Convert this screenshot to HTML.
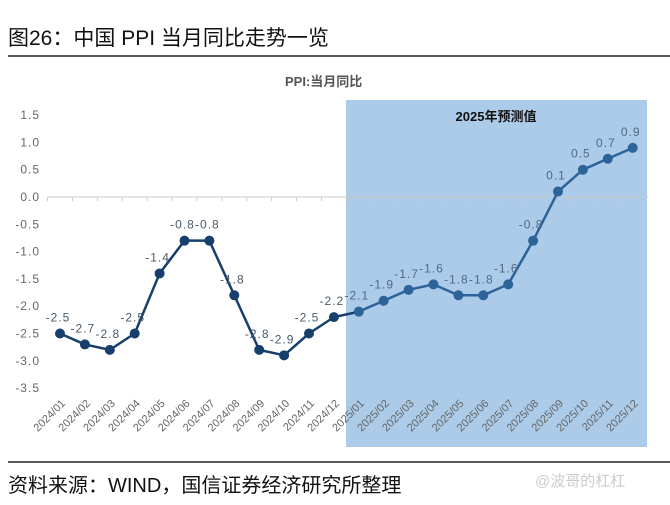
<!DOCTYPE html>
<html><head><meta charset="utf-8"><style>
body{margin:0;background:#fff;width:670px;height:500px;overflow:hidden;font-family:"Liberation Sans","Noto Sans CJK SC",sans-serif}
</style></head><body>
<svg id="s" width="670" height="500" xmlns="http://www.w3.org/2000/svg" font-family="Liberation Sans, Noto Sans CJK SC, sans-serif">
<text x="8" y="45" font-size="21" fill="#111" font-family="Liberation Sans, Noto Sans CJK SC, sans-serif">图26：中国 PPI 当月同比走势一览</text>
<line x1="8" y1="56" x2="670" y2="56" stroke="#222" stroke-width="1.5"/>
<text x="285" y="86" font-size="13" font-weight="bold" fill="#555">PPI:当月同比</text>
<rect x="346" y="100" width="301" height="347" fill="#abcbe8"/>
<text x="496" y="121" font-size="13" font-weight="bold" fill="#111" text-anchor="middle">2025年预测值</text>
<line x1="48" y1="197" x2="648" y2="197" stroke="#c8c8c8" stroke-width="1"/>
<g id="g"></g>
<line x1="8" y1="462" x2="670" y2="462" stroke="#222" stroke-width="1.5"/>
<text x="8" y="492" font-size="20" fill="#111" font-family="Liberation Sans, Noto Sans CJK SC, sans-serif">资料来源：WIND，国信证券经济研究所整理</text>
<text x="535" y="486" font-size="15" fill="#ccc">@波哥的杠杠</text>
</svg>
<script>
var d=[-2.5,-2.7,-2.8,-2.5,-1.4,-0.8,-0.8,-1.8,-2.8,-2.9,-2.5,-2.2,-2.1,-1.9,-1.7,-1.6,-1.8,-1.8,-1.6,-0.8,0.1,0.5,0.7,0.9];
var X=i=>60+i*24.9,Y=v=>197-v*54.6,h='';
for(var t=1.5;t>=-3.51;t-=0.5){var v=Math.round(t*10)/10;h+='<text x="40" y="'+(Y(v)+4)+'" font-size="12" letter-spacing="1" fill="#666" text-anchor="end">'+v.toFixed(1)+'</text>';}
for(var i=0;i<24;i++){h+='<line x1="'+(X(i)-12.45)+'" y1="197" x2="'+(X(i)-12.45)+'" y2="201" stroke="#ccc"/>';
var m=(i<12?'2024/':'2025/')+String(i%12+1).padStart(2,'0');
h+='<text transform="translate('+(X(i)+6)+',404) rotate(-45)" font-size="11" fill="#666" text-anchor="end">'+m+'</text>';}
for(var i=0;i<23;i++){h+='<line x1="'+X(i)+'" y1="'+Y(d[i])+'" x2="'+X(i+1)+'" y2="'+Y(d[i+1])+'" stroke="'+(i<12?'#173f6b':'#2c6399')+'" stroke-width="2.5"/>';}
for(var i=0;i<24;i++){h+='<circle cx="'+X(i)+'" cy="'+Y(d[i])+'" r="5" fill="'+(i<12?'#173f6b':'#2c6399')+'"/>';
h+='<text x="'+(X(i)-2)+'" y="'+(Y(d[i])-12)+'" font-size="12" letter-spacing="1" fill="'+(i<12?'#4a5a6a':'#4f6b85')+'" text-anchor="middle">'+d[i].toFixed(1)+'</text>';}
document.getElementById('g').innerHTML=h;
</script>
</body></html>
